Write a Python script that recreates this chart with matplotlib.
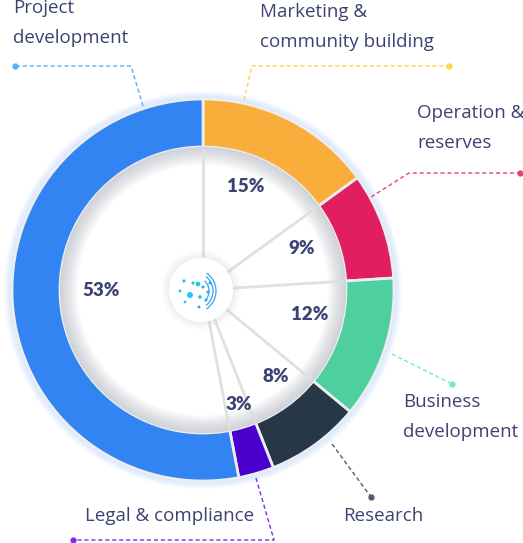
import numpy as np
import matplotlib
matplotlib.use('Agg')
import matplotlib.pyplot as plt
from matplotlib.patches import Circle, Wedge, Arc

# data
labels = ['Marketing &\ncommunity building', 'Operation &\nreserves', 'Business\ndevelopment',
          'Research', 'Legal & compliance', 'Project\ndevelopment']
shares = [15, 9, 12, 8, 3, 53]
pct_text = ['15%', '9%', '12%', '8%', '3%', '53%']
colors = ['#F9AE3B', '#DF1F5F', '#4DCF9F', '#263748', '#4A00CC', '#3284F2']
line_colors = ['#FFD54A', '#E0457A', '#6FF0C0', '#4F5C6E', '#7A2CF0', '#5AAEF8']

W, H = 523, 543
fig = plt.figure(figsize=(W / 100, H / 100), dpi=100)
ax = fig.add_axes([0, 0, 1, 1])

cx, cy = 203, H - 290
R_out, R_in = 191, 143
text_col = '#3C4273'

# soft blue glow around the ring
for i in range(8):
    ax.add_patch(Wedge((cx, cy), R_out + 8 - i, 0, 360, width=10 - i, color='#9CC4FF',
                       alpha=0.06, lw=0, zorder=1))

wedges, _ = ax.pie(shares, colors=colors, radius=R_out, center=(cx, cy), startangle=90,
                   counterclock=False, wedgeprops=dict(width=R_out - R_in, edgecolor='#EDEDED', linewidth=2),
                   frame=False)
for w in wedges:
    w.set_zorder(2)

# white hole with inner shadow
ax.add_patch(Circle((cx, cy), R_in, color='white', lw=0, zorder=2.5))
for i in range(18):
    ax.add_patch(Wedge((cx, cy), R_in, 0, 360, width=18 - i, color='#8890A0', alpha=0.022, lw=0, zorder=3))

# spokes between segments
bounds = np.cumsum([0] + shares)
for b in bounds[:-1]:
    ang = np.deg2rad(90 - b * 3.6)
    ax.plot([cx, cx + (R_in - 2) * np.cos(ang)], [cy, cy + (R_in - 2) * np.sin(ang)],
            color='#E0E0E0', lw=2, zorder=4, solid_capstyle='butt')

# percentage labels
pct_pos = [(246, 187), (302, 249), (310, 315), (276, 376), (239, 405), (101, 290)]
for t, (x, y) in zip(pct_text, pct_pos):
    ax.text(x, H - y, t, ha='center', va='center', fontsize=13.5, fontweight='heavy',
            color=text_col, family='Lato', zorder=6)

# center badge with logo
for i in range(8):
    ax.add_patch(Circle((cx - 2, cy), 33 + i, color='#B8B8B8', alpha=0.025, lw=0, zorder=5))
ax.add_patch(Circle((cx - 2, cy), 32, color='white', lw=0, zorder=5))
lc = '#22C6EE'
dots = [(184, 281, 1.6), (193, 283, 1.6), (198, 284, 2.4), (180, 291, 1.4), (190, 295, 3.0),
        (200, 297, 1.8), (185, 302, 1.4)]
for x, y, r in dots:
    ax.add_patch(Circle((x, H - y), r, color=lc, lw=0, zorder=6))
for rr, th1, th2 in [(20, -60, 60), (17, -55, 55), (13, -50, 50)]:
    ax.add_patch(Arc((196, H - 291), rr * 2, rr * 2.1, theta1=th1, theta2=th2, color='#2FA8F2', lw=0.9, zorder=6))
for x, y in [(203, 287), (208, 292), (206, 300), (199, 307), (210, 283)]:
    ax.add_patch(Circle((x, H - y), 1.5, color='#2FA8F2', lw=0, zorder=6))

# leader lines: (path in pixel coords), dot at end
leaders = [
    [(244, 100), (252, 66), (449, 66)],
    [(371, 197), (409, 173), (520, 173)],
    [(392, 354), (452, 384)],
    [(332, 444), (371, 497)],
    [(256, 478), (274, 540), (73, 540)],
    [(143, 106), (131, 66), (15, 66)],
]
for pts, c in zip(leaders, line_colors):
    xs = [p[0] for p in pts]
    ys = [H - p[1] for p in pts]
    ax.plot(xs, ys, color=c, lw=1, ls=(0, (3, 2)), zorder=1)
    ax.plot(xs[-1], ys[-1], 'o', color=c, ms=3.5, zorder=6)

# category labels
label_pos = [(260, 12), (417, 113), (403, 402), (343, 516), (85, 516), (13, 8)]
for lab, (x, y) in zip(labels, label_pos):
    for k, line in enumerate(lab.split('\n')):
        ax.text(x, H - y - 30 * k, line, ha='left', va='center', fontsize=13.5,
                color=text_col, family='Open Sans', zorder=6)

ax.set_xlim(0, W)
ax.set_ylim(0, H)
ax.set_aspect('auto')
ax.axis('off')
fig.savefig('out.png', dpi=100)
